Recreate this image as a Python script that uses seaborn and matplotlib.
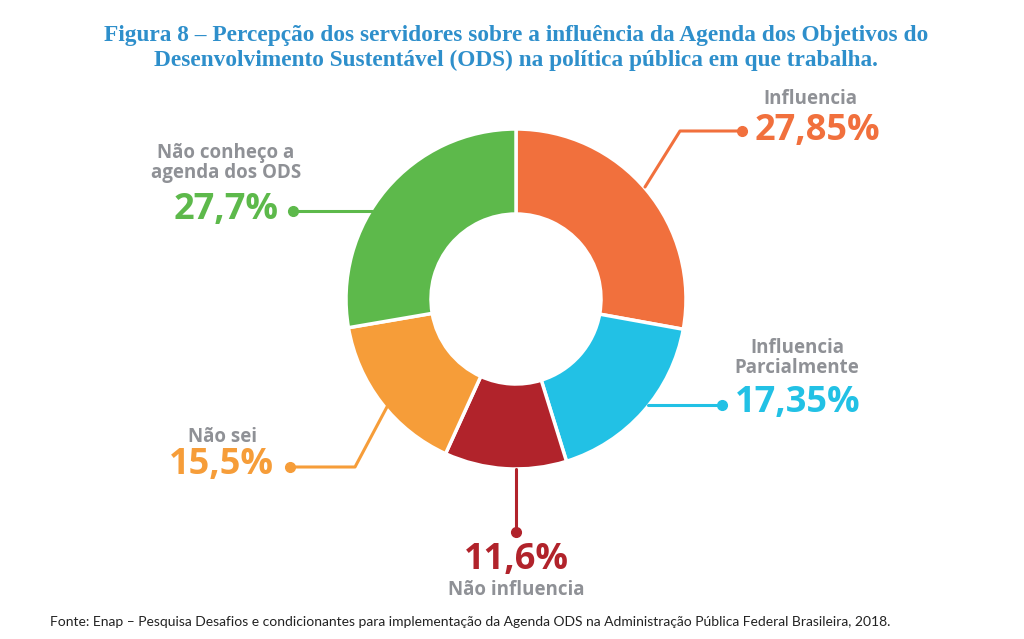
import matplotlib
matplotlib.use("Agg")
import matplotlib.pyplot as plt
import seaborn as sns

# data
categories = ["Influencia", "Influencia\nParcialmente", "Não influencia", "Não sei",
              "Não conheço a\nagenda dos ODS"]
shares = [27.85, 17.35, 11.6, 15.5, 27.7]
pct_labels = ["27,85%", "17,35%", "11,6%", "15,5%", "27,7%"]
colors = ["#F1703D", "#22C1E5", "#B1232B", "#F69D39", "#5DB94B"]

sns.set_theme(style="white")
plt.rcParams['font.family'] = ['Open Sans', 'DejaVu Sans']

W, H = 1024, 639
fig = plt.figure(figsize=(W / 100, H / 100), dpi=100)
ax = fig.add_axes([0, 0, 1, 1])

def py(y):
    # pixel row (from top) -> axis y
    return H - y

# donut
cx, cy, r = 516, py(299), 170
ax.pie(shares, colors=colors, startangle=90, counterclock=False,
       center=(cx, cy), radius=r,
       wedgeprops=dict(width=r * 0.5, edgecolor='white', linewidth=2.5))
ax.set_xlim(0, W)
ax.set_ylim(0, H)
ax.set_aspect('equal')
ax.axis('off')

# leader lines (pixel layout)
leaders = [
    [(645, 187), (680, 131), (742, 131)],
    [(648, 405), (722, 405)],
    [(516, 469), (516, 532)],
    [(388, 405), (355, 467), (290, 467)],
    [(372, 211), (293, 211)],
]
for pts, c in zip(leaders, colors):
    xs = [p[0] for p in pts]
    ys = [py(p[1]) for p in pts]
    ax.plot(xs, ys, color=c, lw=2.2, solid_capstyle='round')
    ax.plot(xs[-1], ys[-1], 'o', color=c, ms=7)

gray = '#8F9196'
pct_kw = dict(fontsize=26, fontweight='bold')
cat_kw = dict(fontsize=13.5, fontweight='bold', color=gray, linespacing=1.05)

# Influencia
ax.text(755, py(131), pct_labels[0], color=colors[0], ha='left', va='center', **pct_kw)
ax.text(810, py(99), categories[0], ha='center', va='center', **cat_kw)
# Influencia Parcialmente
ax.text(735, py(403), pct_labels[1], color=colors[1], ha='left', va='center', **pct_kw)
ax.text(797, py(358), categories[1], ha='center', va='center', **cat_kw)
# Não influencia
ax.text(516, py(560), pct_labels[2], color=colors[2], ha='center', va='center', **pct_kw)
ax.text(516, py(590), categories[2], ha='center', va='center', **cat_kw)
# Não sei
ax.text(274, py(465), pct_labels[3], color=colors[3], ha='right', va='center', **pct_kw)
ax.text(222, py(437), categories[3], ha='center', va='center', **cat_kw)
# Não conheço
ax.text(279, py(210), pct_labels[4], color=colors[4], ha='right', va='center', **pct_kw)
ax.text(226, py(163), categories[4], ha='center', va='center', **cat_kw)

# title
ax.text(516, py(48), "Figura 8 – Percepção dos servidores sobre a influência da Agenda dos Objetivos do\n"
        "Desenvolvimento Sustentável (ODS) na política pública em que trabalha.",
        ha='center', va='center', fontsize=16.8, fontweight='bold', color='#2E8FCB',
        family=['Liberation Serif', 'DejaVu Serif'], linespacing=1.25)

# source
ax.text(50, py(622), "Fonte: Enap – Pesquisa Desafios e condicionantes para implementação da Agenda ODS "
        "na Administração Pública Federal Brasileira, 2018.",
        ha='left', va='center', fontsize=10, color='#222222', family=['Lato', 'DejaVu Sans'])

fig.savefig("out.png", dpi=100, facecolor='white')
